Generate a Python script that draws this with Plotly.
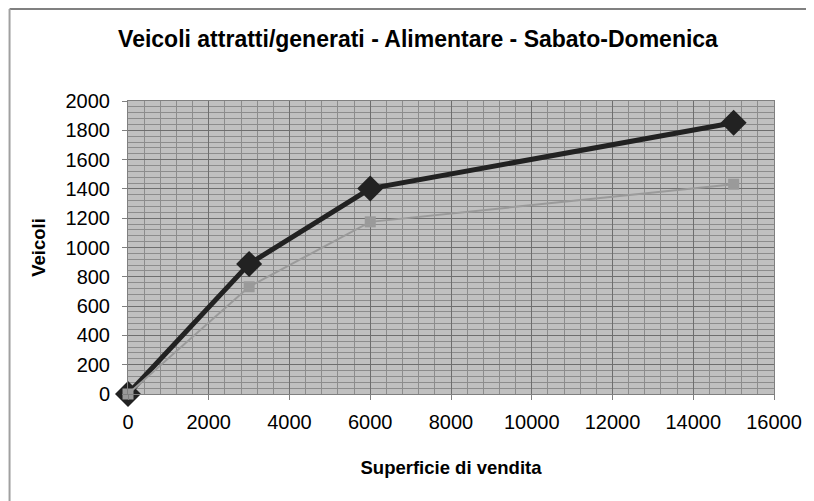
import plotly.graph_objects as go

superficie = [0, 3000, 6000, 15000]
veicoli_scuri = [0, 888, 1402, 1852]
veicoli_grigi = [0, 732, 1175, 1432]

title = "Veicoli attratti/generati - Alimentare - Sabato-Domenica"
x_title = "Superficie di vendita"
y_title = "Veicoli"

fig = go.Figure()
fig.add_trace(go.Scatter(
    x=superficie, y=veicoli_scuri, mode="lines+markers",
    line=dict(color="#222222", width=5),
    marker=dict(symbol="diamond", size=20, color="#222222"),
    showlegend=False, cliponaxis=False))
fig.add_trace(go.Scatter(
    x=superficie, y=veicoli_grigi, mode="lines+markers",
    line=dict(color="#9a9a9a", width=2),
    marker=dict(symbol="square", size=11, color="#9a9a9a"),
    showlegend=False, cliponaxis=False))

W, H = 806, 493
L, R, T, B = 120, 37, 93, 107
pw, ph = W - L - R, H - T - B

font = "Liberation Sans, Arial, sans-serif"
fig.update_layout(
    width=W, height=H,
    margin=dict(l=L, r=R, t=T, b=B),
    paper_bgcolor="white", plot_bgcolor="#c0c0c0",
    font=dict(family=font, color="black"),
    title=dict(text="<b>" + title + "</b>", x=(418 - 8) / W, xanchor="center",
               y=1 - (39 - 8) / H, yanchor="middle", font=dict(size=23)),
    xaxis=dict(range=[0, 16000], dtick=2000, tick0=0, tickformat="d",
               showgrid=True, gridcolor="#6e6e6e", gridwidth=1,
               minor=dict(dtick=400, showgrid=True, gridcolor="#8c8c8c", gridwidth=1),
               ticks="outside", ticklen=5, tickcolor="#808080",
               tickfont=dict(size=20), zeroline=False, ticklabelstandoff=5,
               showline=True, linecolor="#808080", mirror=True,
               title=dict(text="<b>" + x_title + "</b>", font=dict(size=18.5), standoff=29)),
    yaxis=dict(range=[0, 2000], dtick=200, tick0=0, tickformat="d",
               showgrid=True, gridcolor="#6e6e6e", gridwidth=1,
               minor=dict(dtick=40, showgrid=True, gridcolor="#8c8c8c", gridwidth=1),
               ticks="outside", ticklen=5, tickcolor="#808080",
               tickfont=dict(size=20), zeroline=False, ticklabelstandoff=8,
               showline=True, linecolor="#808080", mirror=True,
               title=dict(text="<b>" + y_title + "</b>", font=dict(size=18.5), standoff=15)),
)

# outer chart frame (top and left edges)
fig.add_shape(type="line", xref="paper", yref="paper",
              x0=(1 - L) / pw, x1=(W - L) / pw, y0=1 + (T - 1) / ph, y1=1 + (T - 1) / ph,
              line=dict(color="#808080", width=2))
fig.add_shape(type="line", xref="paper", yref="paper",
              x0=(1 - L) / pw, x1=(1 - L) / pw, y0=1 + (T - 1) / ph, y1=-B / ph,
              line=dict(color="#a0a0a0", width=2))

fig.write_html("out.html")
